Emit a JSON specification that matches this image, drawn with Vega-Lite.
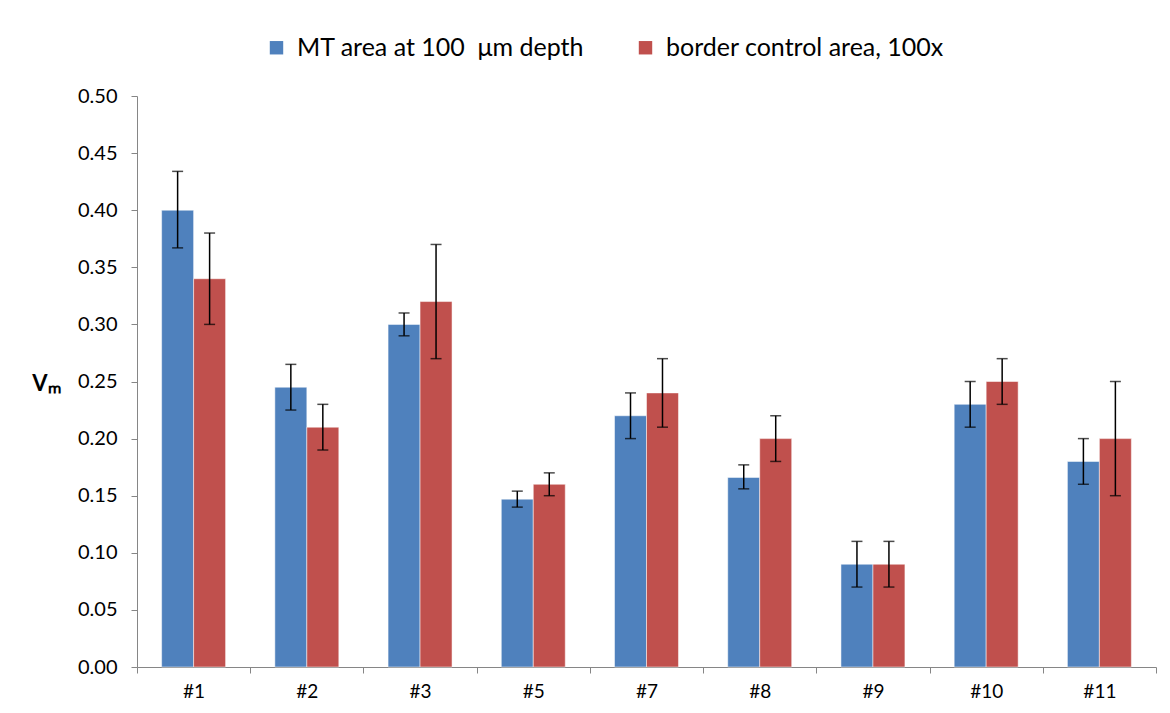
{
  "$schema": "https://vega.github.io/schema/vega-lite/v6.json",
  "width": 1019,
  "height": 571,
  "autosize": "none",
  "padding": {"left": 137, "top": 96, "right": 14, "bottom": 46},
  "background": "white",
  "config": {
    "view": {"stroke": null},
    "font": "Lato",
    "axis": {"labelFont": "Lato", "titleFont": "Lato", "grid": false, "domainColor": "#868686", "tickColor": "#868686", "labelColor": "#000000"},
    "legend": {"labelFont": "Lato"}
  },
  "data": {
    "values": [
      {"sample": "#1", "series": "MT area at 100  μm depth", "v": 0.40, "lo": 0.367, "hi": 0.434},
      {"sample": "#1", "series": "border control area, 100x", "v": 0.34, "lo": 0.30, "hi": 0.38},
      {"sample": "#2", "series": "MT area at 100  μm depth", "v": 0.245, "lo": 0.225, "hi": 0.265},
      {"sample": "#2", "series": "border control area, 100x", "v": 0.21, "lo": 0.19, "hi": 0.23},
      {"sample": "#3", "series": "MT area at 100  μm depth", "v": 0.30, "lo": 0.29, "hi": 0.31},
      {"sample": "#3", "series": "border control area, 100x", "v": 0.32, "lo": 0.27, "hi": 0.37},
      {"sample": "#5", "series": "MT area at 100  μm depth", "v": 0.147, "lo": 0.140, "hi": 0.154},
      {"sample": "#5", "series": "border control area, 100x", "v": 0.16, "lo": 0.15, "hi": 0.17},
      {"sample": "#7", "series": "MT area at 100  μm depth", "v": 0.22, "lo": 0.20, "hi": 0.24},
      {"sample": "#7", "series": "border control area, 100x", "v": 0.24, "lo": 0.21, "hi": 0.27},
      {"sample": "#8", "series": "MT area at 100  μm depth", "v": 0.166, "lo": 0.156, "hi": 0.177},
      {"sample": "#8", "series": "border control area, 100x", "v": 0.20, "lo": 0.18, "hi": 0.22},
      {"sample": "#9", "series": "MT area at 100  μm depth", "v": 0.09, "lo": 0.07, "hi": 0.11},
      {"sample": "#9", "series": "border control area, 100x", "v": 0.09, "lo": 0.07, "hi": 0.11},
      {"sample": "#10", "series": "MT area at 100  μm depth", "v": 0.23, "lo": 0.21, "hi": 0.25},
      {"sample": "#10", "series": "border control area, 100x", "v": 0.25, "lo": 0.23, "hi": 0.27},
      {"sample": "#11", "series": "MT area at 100  μm depth", "v": 0.18, "lo": 0.16, "hi": 0.20},
      {"sample": "#11", "series": "border control area, 100x", "v": 0.20, "lo": 0.15, "hi": 0.25}
    ]
  },
  "transform": [
    {"lookup": "series", "from": {"data": {"values": [
      {"series": "MT area at 100  μm depth", "label": "MT area at 100\u00a0\u00a0μm depth"},
      {"series": "border control area, 100x", "label": "border control area, 100x"}
    ]}, "key": "series", "fields": ["label"]}}
  ],
  "encoding": {
    "x": {
      "field": "sample",
      "type": "nominal",
      "sort": null,
      "scale": {"paddingInner": 0, "paddingOuter": 0},
      "axis": {
        "title": null,
        "labelAngle": 0,
        "labelFontSize": 19,
        "labelPadding": 9,
        "bandPosition": 0,
        "tickSize": 6,
        "tickBand": "extent"
      }
    },
    "xOffset": {
      "field": "series",
      "type": "nominal",
      "scale": {"paddingInner": 0, "paddingOuter": 0.77}
    }
  },
  "layer": [
    {
      "mark": {"type": "bar", "stroke": "#ffffff", "strokeOpacity": 0.5, "strokeWidth": 1},
      "encoding": {
        "y": {
          "field": "v",
          "type": "quantitative",
          "scale": {"domain": [0, 0.5]},
          "axis": {
            "title": "Vₘ",
            "titleAngle": 0,
            "titleFontSize": 22,
            "titleFontWeight": "bold",
            "titleX": -91,
            "titleY": 287,
            "titleAlign": "center",
            "titleBaseline": "middle",
            "values": [0, 0.05, 0.1, 0.15, 0.2, 0.25, 0.3, 0.35, 0.4, 0.45, 0.5],
            "format": ".2f",
            "labelFontSize": 20,
            "labelPadding": 14,
            "tickSize": 6
          }
        },
        "color": {
          "field": "label",
          "type": "nominal",
          "scale": {
            "domain": ["MT area at 100\u00a0\u00a0μm depth", "border control area, 100x"],
            "range": ["#4F81BD", "#C0504D"]
          },
          "legend": {
            "title": null,
            "orient": "none",
            "direction": "horizontal",
            "legendX": 127,
            "legendY": -61,
            "symbolType": "square",
            "symbolSize": 180,
            "symbolStrokeWidth": 0,
            "labelFontSize": 25,
            "labelOffset": 8,
            "columnPadding": 48,
            "labelLimit": 500
          }
        }
      }
    },
    {
      "mark": {"type": "rule", "color": "#000000", "strokeWidth": 1.5},
      "encoding": {
        "y": {"field": "lo", "type": "quantitative"},
        "y2": {"field": "hi"}
      }
    },
    {
      "mark": {"type": "tick", "color": "#000000", "thickness": 1.5, "size": 11, "orient": "horizontal"},
      "encoding": {
        "y": {"field": "lo", "type": "quantitative"}
      }
    },
    {
      "mark": {"type": "tick", "color": "#000000", "thickness": 1.5, "size": 11, "orient": "horizontal"},
      "encoding": {
        "y": {"field": "hi", "type": "quantitative"}
      }
    }
  ]
}
